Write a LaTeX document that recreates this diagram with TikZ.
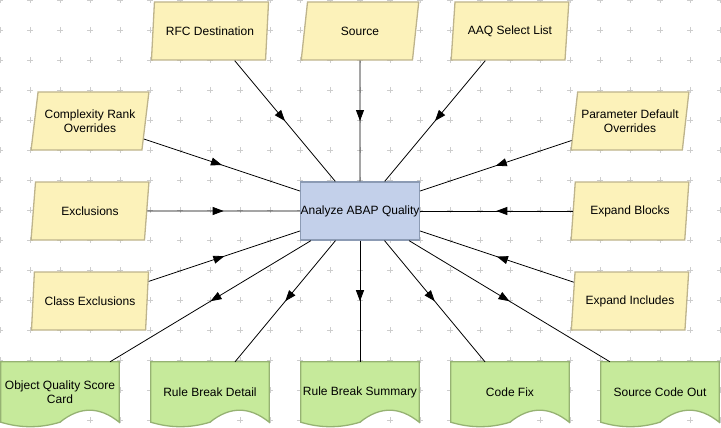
\documentclass[tikz,border=0pt]{standalone}
\usepackage{fontspec}
\setmainfont{Liberation Sans}
\usepackage{tikz}
\usetikzlibrary{shapes.geometric,arrows.meta,decorations.markings,backgrounds}

\definecolor{inyellow}{RGB}{252,242,186}
\definecolor{inborder}{RGB}{190,180,140}
\definecolor{procblue}{RGB}{195,208,234}
\definecolor{procborder}{RGB}{140,155,180}
\definecolor{outgreen}{RGB}{198,234,155}
\definecolor{outborder}{RGB}{150,178,115}
\definecolor{gridgray}{RGB}{205,205,205}

\tikzset{
	every node/.style={font=\fontsize{12}{14}\selectfont, inner sep=0pt, align=center},
	inbox/.style={trapezium, trapezium left angle=75, trapezium right angle=105, trapezium stretches=true,
		minimum width=118pt, minimum height=58pt, draw=inborder, fill=inyellow, line width=1.3pt},
	procbox/.style={rectangle, minimum width=118pt, minimum height=58pt, draw=procborder, fill=procblue, line width=1.3pt},
	docbox/.style={rectangle, minimum width=118pt, minimum height=60pt},
	docline/.style={draw=outborder, fill=outgreen, line width=1.3pt},
	gridmark/.style={gridgray, line width=0.7pt},
	flow/.style={draw, line width=0.8pt, postaction={decorate},
		decoration={markings, mark=at position 0.5 with {\arrow{Triangle[length=11pt,width=8pt]}}}}
}

\begin{document}
\begin{tikzpicture}[x=1pt,y=-1pt]
	\useasboundingbox (0,0) rectangle (721,428);
	\begin{pgfonlayer}{background}
		\foreach \gx in {0,30,...,720}
			\foreach \gy in {0,30,...,420}
				\draw[gridmark] (\gx-3,\gy) -- (\gx+3,\gy) (\gx,\gy-3) -- (\gx,\gy+3);
	\end{pgfonlayer}

	\node[procbox] (main) at (360,211) {Analyze ABAP Quality};

	% inputs
	\node[inbox] (rfc) at (210,31) {RFC Destination};
	\node[inbox] (src) at (360,31) {Source};
	\node[inbox] (aaq) at (510,31) {AAQ Select List};
	\node[inbox] (cro) at (90,121) {Complexity Rank\\Overrides};
	\node[inbox] (excl) at (90,211) {Exclusions};
	\node[inbox] (clex) at (90,301) {Class Exclusions};
	\node[inbox] (pdo) at (630,121) {Parameter Default\\Overrides};
	\node[inbox] (expb) at (630,211) {Expand Blocks};
	\node[inbox] (expi) at (630,301) {Expand Includes};

	% outputs
	\foreach \nm/\px/\txt in {oqs/60/{Object Quality Score\\Card}, rbd/210/{Rule Break Detail},
		rbs/360/{Rule Break Summary}, cfix/510/{Code Fix}, sco/660/{Source Code Out}}
		\node[docbox] (\nm) at (\px,392) {\txt};
	\begin{pgfonlayer}{background}
		\foreach \nm in {oqs,rbd,rbs,cfix,sco}
			\draw[docline] (\nm.north west) -- (\nm.north east) -- (\nm.south east)
				.. controls +(-19.7pt,16pt) and +(19.7pt,16pt) .. (\nm.south)
				.. controls +(-19.7pt,-6pt) and +(19.7pt,-6pt) .. (\nm.south west) -- cycle;
	\end{pgfonlayer}

	\foreach \src in {rfc,src,aaq,cro,excl,clex,pdo,expb,expi}
		\draw[flow] (\src) -- (main);
	\foreach \dst in {oqs,rbd,rbs,cfix,sco}
		\draw[flow] (main) -- (\dst);
\end{tikzpicture}
\end{document}
